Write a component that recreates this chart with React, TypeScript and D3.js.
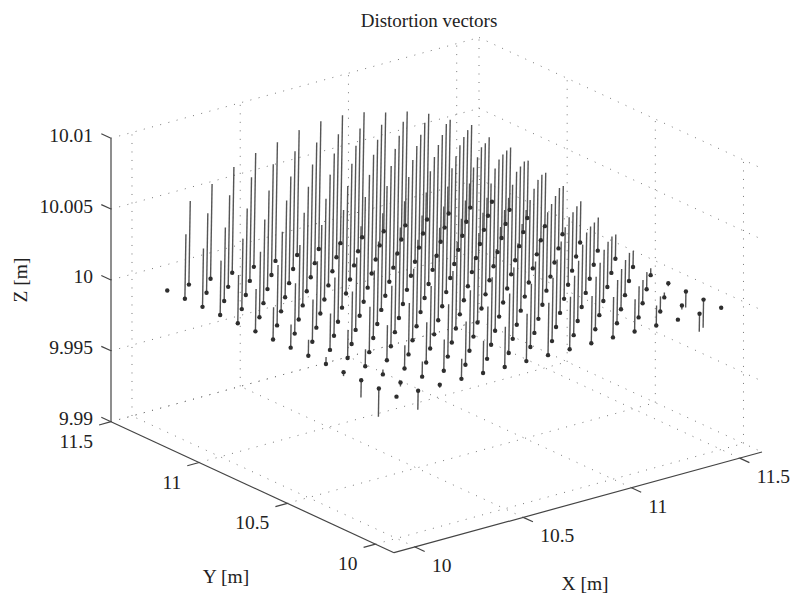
import * as d3 from "d3";

// measured axis limits
const xLim = [9.903, 11.603];
const yLim = [9.895, 11.5];
const zLim = [9.99, 10.01];

const xTicks = [10, 10.5, 11, 11.5];
const yTicks = [10, 10.5, 11, 11.5];
const zTicks = [9.99, 9.995, 10, 10.005, 10.01];
const zTickLabels = ["9.99", "9.995", "10", "10.005", "10.01"];

// grid of the measured points, all at Z = 10 m
const gridX = [10, 10.1, 10.2, 10.3, 10.4, 10.5, 10.6, 10.7, 10.8, 10.9, 11, 11.1, 11.2, 11.3, 11.4, 11.5];
const gridY = [11.3, 11.2, 11.1, 11, 10.9, 10.8, 10.7, 10.6, 10.5, 10.4, 10.3, 10.2, 10.1, 10];
const gridZ = 10;

// distortion in mm, one row per gridY, one column per gridX
const distortion = [
  [0, 5.87, 6.65, 7.42, 7.99, 8.34, 8.77, 8.98, 8.98, 8.77, 8.34, 7.99, 7.42, 6.58, 5.8, 0],
  [4.52, 5.59, 6.43, 7.28, 7.78, 8.27, 8.48, 8.63, 8.63, 8.48, 8.27, 7.78, 7.28, 6.43, 5.51, 4.38],
  [4.1, 5.16, 6.08, 6.93, 7.49, 7.92, 8.27, 8.41, 8.41, 8.27, 7.92, 7.49, 6.93, 6.08, 5.16, 4.03],
  [3.82, 4.95, 5.87, 6.79, 7.35, 7.78, 8.13, 8.34, 8.34, 8.13, 7.78, 7.35, 6.79, 5.87, 4.95, 3.75],
  [3.39, 4.6, 5.59, 6.5, 7.07, 7.56, 7.92, 8.13, 8.13, 7.92, 7.56, 7.07, 6.5, 5.59, 4.6, 3.39],
  [2.97, 4.24, 5.23, 6.22, 6.86, 7.35, 7.71, 7.92, 7.92, 7.71, 7.35, 6.86, 6.22, 5.23, 4.24, 2.9],
  [2.26, 3.54, 4.67, 5.59, 6.29, 6.79, 7.21, 7.42, 7.42, 7.21, 6.79, 6.29, 5.59, 4.67, 3.54, 2.33],
  [1.63, 2.97, 4.1, 5.09, 5.8, 6.36, 6.79, 7, 7, 6.79, 6.36, 5.8, 5.09, 4.1, 2.97, 1.7],
  [1.13, 2.55, 3.68, 4.74, 5.51, 6.08, 6.5, 6.72, 6.72, 6.5, 6.08, 5.51, 4.74, 3.68, 2.55, 1.13],
  [0.49, 1.98, 3.18, 4.24, 5.02, 5.59, 6.08, 6.29, 6.29, 6.08, 5.59, 5.02, 4.24, 3.18, 1.98, 0.49],
  [-0.28, 1.2, 2.47, 3.61, 4.38, 5.02, 5.51, 5.73, 5.73, 5.51, 5.02, 4.38, 3.61, 2.47, 1.2, -0.21],
  [-1.2, 0.35, 1.63, 2.83, 3.68, 4.24, 4.74, 5.02, 5.02, 4.74, 4.24, 3.68, 2.83, 1.63, 0.35, -1.13],
  [-1.98, -0.28, 1.06, 2.19, 3.04, 3.68, 4.17, 4.45, 4.45, 4.17, 3.68, 3.04, 2.19, 1.06, -0.28, -1.98],
  [0, -1.34, -0.21, 1.41, 2.26, 2.83, 3.32, 3.68, 3.68, 3.32, 2.83, 2.26, 1.41, -0.07, -1.27, 0],
];

// vectors lean a little towards +X
const xLean = 1.06;

const width = 790;
const height = 594;
const font = "'Liberation Serif', 'Times New Roman', serif";
const ink = "#444";

// 3d box projected by hand: three corners of the floor and the wall height
const front = [394, 552.7];
const right = [762, 452];
const left = [111, 421.7];
const uScale = d3.scaleLinear().domain(xLim).range([0, 1]);
const vScale = d3.scaleLinear().domain(yLim).range([0, 1]);
const wScale = d3.scaleLinear().domain(zLim).range([0, 283.5]);

const project = (x: number, y: number, z: number): [number, number] => {
  const u = uScale(x);
  const v = vScale(y);
  return [
    front[0] + u * (right[0] - front[0]) + v * (left[0] - front[0]),
    front[1] + u * (right[1] - front[1]) + v * (left[1] - front[1]) - wScale(z),
  ];
};

const line3 = (a: [number, number, number], b: [number, number, number]) =>
  d3.line()([project(a[0], a[1], a[2]), project(b[0], b[1], b[2])]) ?? "";

export default function App() {
  const [x0, x1] = xLim;
  const [y0, y1] = yLim;
  const [z0, z1] = zLim;

  const grid: string[] = [];
  xTicks.forEach(x => {
    grid.push(line3([x, y0, z0], [x, y1, z0]));
    grid.push(line3([x, y1, z0], [x, y1, z1]));
  });
  yTicks.forEach(y => {
    grid.push(line3([x0, y, z0], [x1, y, z0]));
    grid.push(line3([x1, y, z0], [x1, y, z1]));
  });
  zTicks.forEach(z => {
    grid.push(line3([x0, y1, z], [x1, y1, z]));
    grid.push(line3([x1, y1, z], [x1, y0, z]));
  });

  const points = gridY.flatMap((y, r) => gridX.map((x, c) => ({ x, y, dz: distortion[r][c] })));

  const tickLen = 0.055;
  const label = { fontFamily: font, fontSize: 19.5, fill: "#222" };

  return (
    <svg width={width} height={height} style={{ position: "absolute", left: 0, top: 0, background: "#fff" }}>
      <g fill="none" stroke="#777" strokeWidth={1} strokeDasharray="1 7.5">
        {grid.map((d, i) => <path key={i} d={d} />)}
      </g>

      <g fill="none" stroke={ink} strokeWidth={1.2}>
        <path d={line3([x0, y0, z0], [x1, y0, z0])} />
        <path d={line3([x0, y0, z0], [x0, y1, z0])} />
        <path d={line3([x0, y1, z0], [x0, y1, z1])} />
        {xTicks.map(x => <path key={x} d={line3([x, y0, z0], [x, y0 - tickLen, z0])} />)}
        {yTicks.map(y => <path key={y} d={line3([x0, y, z0], [x0 - tickLen, y, z0])} />)}
        {zTicks.map(z => <path key={z} d={line3([x0, y1, z], [x0, y1 + tickLen, z])} />)}
      </g>

      <g fill="none" stroke="#555" strokeWidth={1.4}>
        {points.filter(p => p.dz !== 0).map((p, i) => (
          <path
            key={i}
            d={line3([p.x, p.y, gridZ], [p.x + (p.dz / 1000) * xLean, p.y, gridZ + p.dz / 1000])}
          />
        ))}
      </g>
      <g fill="#2e2e2e">
        {points.map((p, i) => {
          const [cx, cy] = project(p.x, p.y, gridZ);
          return <circle key={i} cx={cx} cy={cy} r={2.2} />;
        })}
      </g>

      <text x={429} y={27} textAnchor="middle" fontFamily={font} fontSize={19} fill="#222">Distortion vectors</text>

      {zTicks.map((z, i) => (
        <text key={z} x={93} y={project(x0, y1, z)[1] + 3.5} textAnchor="end" {...label}>{zTickLabels[i]}</text>
      ))}
      {xTicks.map(x => {
        const [px, py] = project(x, y0, z0);
        return <text key={x} x={px + 17} y={py + 25} {...label}>{x}</text>;
      })}
      {yTicks.map(y => {
        const [px, py] = project(x0, y, z0);
        return <text key={y} x={px - 18} y={py + 26} textAnchor="end" {...label}>{y}</text>;
      })}

      <text x={226} y={583} textAnchor="middle" {...label}>Y [m]</text>
      <text x={585} y={590} textAnchor="middle" {...label}>X [m]</text>
      <text transform="translate(27,280) rotate(-90)" textAnchor="middle" {...label}>Z [m]</text>
    </svg>
  );
}
